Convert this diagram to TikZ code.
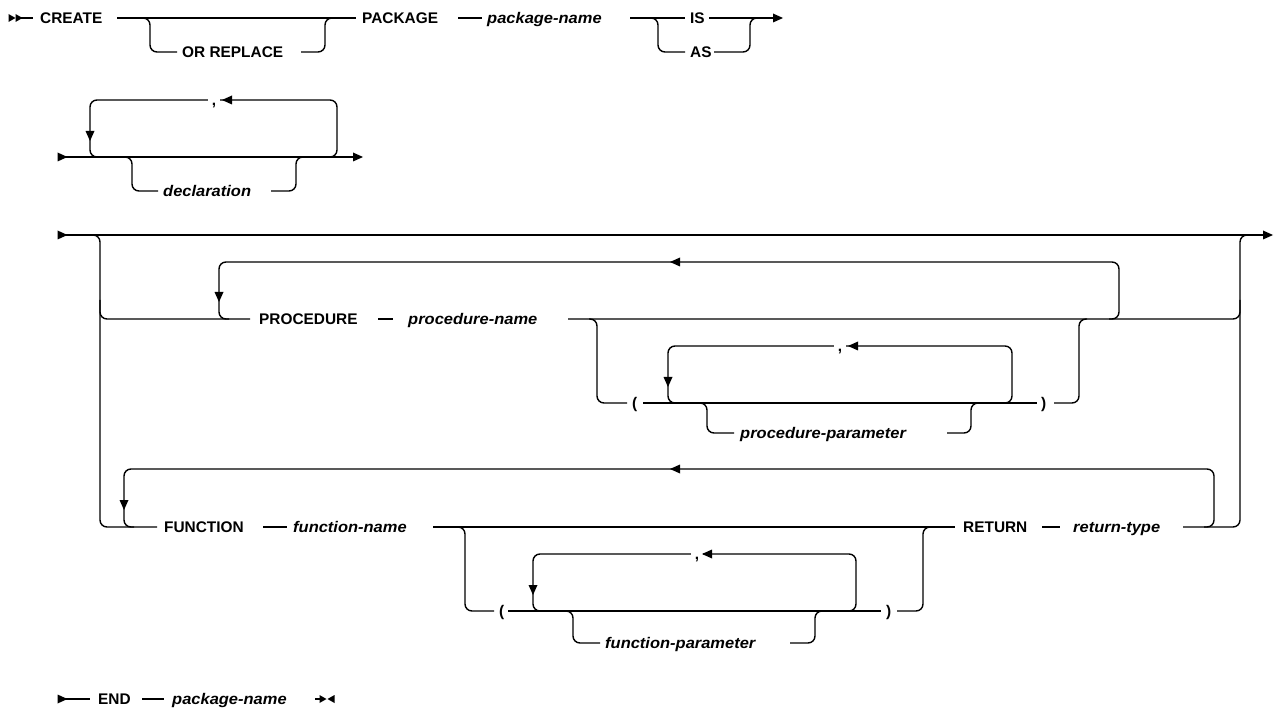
\documentclass[tikz,border=0pt]{standalone}
\usepackage{fontspec}
\setmainfont{Liberation Sans}
\newfontfamily\varfamily[FakeStretch=1.07]{Liberation Sans}
\begin{document}
\begin{tikzpicture}[x=1pt,y=-1pt,
  rail/.style={line width=1.4pt, rounded corners=7pt},
  kw/.style={anchor=base west, inner sep=0pt, font=\fontsize{15.4}{18}\selectfont\bfseries},
  var/.style={anchor=base west, inner sep=0pt, font=\varfamily\fontsize{15.4}{18}\selectfont\bfseries\itshape},
  comma/.style={anchor=base, inner xsep=4pt, inner ysep=0pt, text height=9pt, text depth=4pt,
    fill=white, font=\fontsize{15.4}{18}\selectfont\bfseries},
  tri/.pic={\fill (-5,-4.5) -- (5,0) -- (-5,4.5) -- cycle;},
  stri/.pic={\fill (-3.5,-4) -- (3.5,0) -- (-3.5,4) -- cycle;}
]
\useasboundingbox (0,0) rectangle (1277,708);

% ---- CREATE [OR REPLACE] PACKAGE package-name IS|AS
\pic at (12,18) {stri};
\pic at (19,18) {stri};
\draw[rail] (20,18) -- (33,18);
\node[kw] (create) at (40,23.5) {CREATE};
\draw[rail] (117,18) -- (356,18);
\draw[rail] (142,18) -| (150,52) -- (177,52);
\node[kw] (orrep) at (182,57.5) {OR REPLACE};
\draw[rail] (301,52) -| (325,18) -- (333,18);
\node[kw] (package) at (362,23.5) {PACKAGE};
\draw[rail] (458,18) -- (482,18);
\node[var] (pkgname) at (487,23.5) {package-name};
\draw[rail] (630,18) -- (685,18);
\node[kw] (is) at (690,23.5) {IS};
\draw[rail] (709,18) -- (775,18);
\pic at (778,18) {tri};
\draw[rail] (650,18) -| (658,52) -- (685,52);
\node[kw] (as) at (690,57.5) {AS};
\draw[rail] (714,52) -| (750,18) -- (758,18);

% ---- declarations
\pic at (62.5,157) {tri};
\draw[rail] (62,157) -- (355,157);
\pic at (358,157) {tri};
\draw[rail] (325,157) -| (337,100) -| (90,157) -- (100,157);
\node[comma] (c1) at (214,105.5) {,};
\pic[rotate=180] at (227,100) {tri};
\pic[rotate=-90] at (90,136) {tri};
\draw[rail] (124,157) -| (132,191) -- (158,191);
\node[var] (decl) at (163,196.5) {declaration};
\draw[rail] (271,191) -| (296,157) -- (304,157);

% ---- procedures and functions
\pic at (62.5,235) {tri};
\draw[rail] (62,235) -- (1265,235);
\pic at (1268,235) {tri};
\draw[rail] (92,235) -| (100,527) -- (157,527);
\draw[rail] (100,300) |- (250,319);
\draw[rail] (1183,527) -| (1240,235) -- (1250,235);

% PROCEDURE branch
\draw[rail] (1109,319) -| (1119,262) -| (219,319) -- (229,319);
\pic[rotate=180] at (675,262) {tri};
\pic[rotate=-90] at (219,297) {tri};
\node[kw] (proc) at (259,324.5) {PROCEDURE};
\draw[rail] (378,319) -- (393,319);
\node[var] (procname) at (408,324.5) {procedure-name};
\draw[rail] (568,319) -| (1240,300);
\draw[rail] (589,319) -| (597,403) -- (627,403);
\node[kw] (lp1) at (632,408.5) {(};
\draw[rail] (643,403) -- (1037,403);
\node[kw] (rp1) at (1041,408.5) {)};
\draw[rail] (1054,403) -| (1079,319) -- (1087,319);
\draw[rail] (1002,403) -| (1012,346) -| (668,403) -- (678,403);
\node[comma] (c2) at (840,351.5) {,};
\pic[rotate=180] at (853,346) {tri};
\pic[rotate=-90] at (668,382) {tri};
\draw[rail] (699,403) -| (707,433) -- (734,433);
\node[var] (procpar) at (740,438.5) {procedure-parameter};
\draw[rail] (947,433) -| (971,403) -- (979,403);

% FUNCTION branch
\draw[rail] (1204,527) -| (1214,469) -| (124,527) -- (134,527);
\pic[rotate=180] at (675,469) {tri};
\pic[rotate=-90] at (124,505) {tri};
\node[kw] (func) at (164,532.5) {FUNCTION};
\draw[rail] (263,527) -- (287,527);
\node[var] (funcname) at (293,532.5) {function-name};
\draw[rail] (433,527) -- (955,527);
\draw[rail] (457,527) -| (465,611) -- (494,611);
\node[kw] (lp2) at (499,616.5) {(};
\draw[rail] (508,611) -- (881,611);
\node[kw] (rp2) at (886,616.5) {)};
\draw[rail] (897,611) -| (923,527) -- (931,527);
\draw[rail] (846,611) -| (856,554) -| (533,611) -- (543,611);
\node[comma] (c3) at (697,559.5) {,};
\pic[rotate=180] at (707,554) {tri};
\pic[rotate=-90] at (533,590) {tri};
\draw[rail] (565,611) -| (573,643) -- (600,643);
\node[var] (funcpar) at (605,648.5) {function-parameter};
\draw[rail] (790,643) -| (815,611) -- (823,611);
\node[kw] (ret) at (963,532.5) {RETURN};
\draw[rail] (1042,527) -- (1060,527);
\node[var] (rettype) at (1073,532.5) {return-type};

% ---- END package-name
\pic at (62.5,699) {tri};
\draw[rail] (62,699) -- (90,699);
\node[kw] (end) at (98,704.5) {END};
\draw[rail] (142,699) -- (164,699);
\node[var] (pkgname2) at (172,704.5) {package-name};
\draw[rail] (315,699) -- (322,699);
\pic at (323,699) {stri};
\pic[rotate=180] at (331,699) {stri};
\end{tikzpicture}
\end{document}
